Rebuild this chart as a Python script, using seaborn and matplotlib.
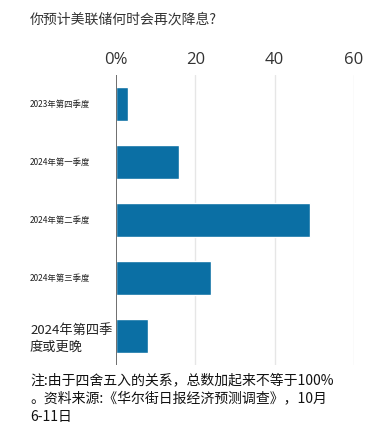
import matplotlib
matplotlib.use("Agg")
import matplotlib.pyplot as plt
import matplotlib.transforms as mtransforms
import seaborn as sns
import pandas as pd

categories = ["2023年第四季度", "2024年第一季度", "2024年第二季度", "2024年第三季度", "2024年第四季\n度或更晚"]
values = [3, 16, 49, 24, 8]
tick_values = [0, 20, 40, 60]
tick_labels = ["0%", "20", "40", "60"]
title = "你预计美联储何时会再次降息?"
note = "注:由于四舍五入的关系，总数加起来不等于100%\n。资料来源:《华尔街日报经济预测调查》，10月\n6-11日"

sns.set_style("white")
plt.rcParams['font.family'] = ['Noto Sans CJK SC', 'DejaVu Sans']

df = pd.DataFrame({"cat": categories, "val": values})

fig = plt.figure(figsize=(3.81, 4.46), dpi=100)
ax = fig.add_axes([116/381, 1-365/446, (354-116)/381, (365-75)/446])

sns.barplot(data=df, x="val", y="cat", color="#0b6fa4", saturation=1, width=0.6, ax=ax, orient="h")

ax.set_xlim(0, 60)
ax.set_ylim(4.5, -0.5)
ax.set_xlabel("")
ax.set_ylabel("")
ax.xaxis.tick_top()
ax.set_xticks(tick_values)
ax.set_xticklabels(tick_labels, fontsize=12, color="#333333", family=['Open Sans', 'DejaVu Sans'])
ax.tick_params(axis="x", length=0, pad=5)
ax.set_yticks([])
for v in tick_values[1:]:
    ax.axvline(v, color="#e6e6e6", lw=1, zorder=0)
ax.axvline(0, color="#555555", lw=1.2, zorder=3)
for s in ax.spines.values():
    s.set_visible(False)

trans = mtransforms.blended_transform_factory(fig.transFigure, ax.transData)
for i, c in enumerate(categories):
    fs = 9.5 if i == len(categories) - 1 else 6
    ax.text(30/381, i + (0.05 if i == len(categories) - 1 else 0), c, transform=trans, fontsize=fs, color="#222222",
            ha="left", va="center", linespacing=1.3)

fig.text(30/381, 1-20/446, title, fontsize=10, color="#333333", ha="left", va="center")
fig.text(30/381, 1-373/446, note, fontsize=10, color="#111111", ha="left", va="top", linespacing=1.4)

fig.savefig("out.png", dpi=100)
